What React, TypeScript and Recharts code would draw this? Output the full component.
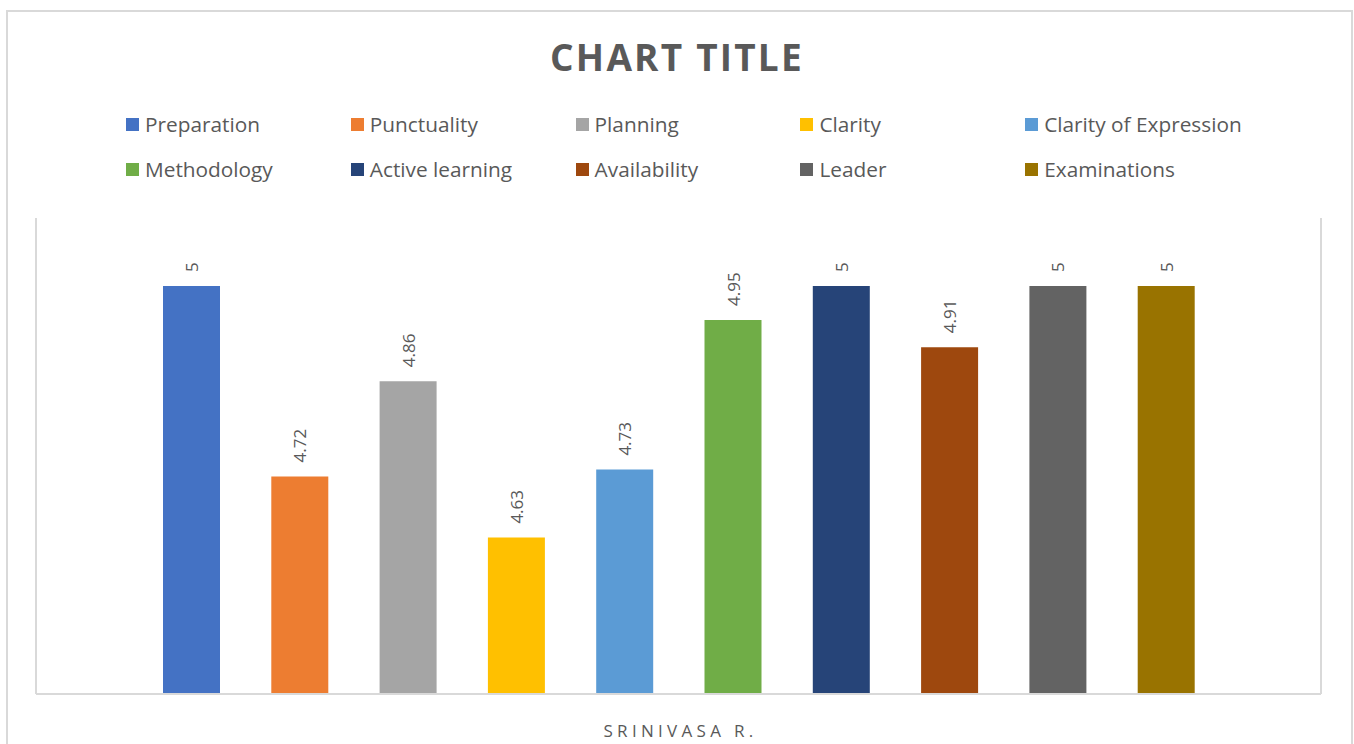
import React from 'react';
import { BarChart, Bar, XAxis, YAxis, CartesianGrid, LabelList } from 'recharts';

const category = 'SRINIVASA R.';
const seriesNames = [
  'Preparation',
  'Punctuality',
  'Planning',
  'Clarity',
  'Clarity of Expression',
  'Methodology',
  'Active learning',
  'Availability',
  'Leader',
  'Examinations',
];
const seriesValues = [5, 4.72, 4.86, 4.63, 4.73, 4.95, 5, 4.91, 5, 5];
const seriesColors = [
  '#4472C4',
  '#ED7D31',
  '#A5A5A5',
  '#FFC000',
  '#5B9BD5',
  '#70AD47',
  '#264478',
  '#9E480E',
  '#636363',
  '#997300',
];
const yDomain = [4.4, 5.1];

const row: Record<string, any> = { name: category };
seriesNames.forEach((n, i) => {
  row['s' + i] = seriesValues[i];
});
const data = [row];

const FONT = '"Open Sans", "Segoe UI", sans-serif';
const TEXT = '#595959';
const LINE = '#d9d9d9';

const renderLabel = (props: any) => {
  const { x, y, width, value } = props;
  const cx = x + width / 2;
  const ty = y - 14;
  return (
    <text
      x={cx}
      y={ty}
      transform={`rotate(-90, ${cx}, ${ty})`}
      textAnchor="start"
      dominantBaseline="central"
      fill={TEXT}
      fontSize={17}
      fontFamily={FONT}
    >
      {value}
    </text>
  );
};

const renderTick = (props: any) => {
  const { x, y, payload } = props;
  return (
    <text
      x={x + 2}
      y={y + 28}
      textAnchor="middle"
      dominantBaseline="central"
      fill={TEXT}
      fontSize={17}
      fontFamily={FONT}
      letterSpacing={4.3}
    >
      {String(payload.value).toUpperCase()}
    </text>
  );
};

export default function App() {
  return (
    <div style={{ position: 'absolute', left: 0, top: 0, width: 1354, height: 744, background: '#fff', overflow: 'hidden' }}>
      <div
        style={{
          position: 'absolute',
          left: 6,
          top: 10,
          width: 1343,
          height: 760,
          border: `2px solid ${LINE}`,
        }}
      />
      <div
        style={{
          position: 'absolute',
          left: 0,
          top: 32,
          width: 1354,
          textAlign: 'center',
          fontFamily: FONT,
          fontWeight: 700,
          fontSize: 37,
          letterSpacing: 2.2,
          color: TEXT,
          lineHeight: '50px',
        }}
      >
        CHART TITLE
      </div>
      <div
        style={{
          position: 'absolute',
          left: 126,
          top: 104,
          width: 1130,
          display: 'grid',
          gridTemplateColumns: 'repeat(5, 224.8px)',
          rowGap: 5,
          fontFamily: FONT,
          fontSize: 20.8,
          color: TEXT,
        }}
      >
        {seriesNames.map((n, i) => (
          <div key={n} style={{ display: 'flex', alignItems: 'center', height: 40, whiteSpace: 'nowrap' }}>
            <span style={{ display: 'inline-block', width: 13, height: 13, background: seriesColors[i], marginRight: 6 }} />
            <span>{n}</span>
          </div>
        ))}
      </div>
      <div style={{ position: 'absolute', left: 0, top: 0 }}>
        <BarChart
          width={1354}
          height={744}
          data={data}
          margin={{ top: 218, right: 33, left: 36, bottom: 0 }}
          barGap={51.3}
        >
          <CartesianGrid
            horizontal={false}
            vertical
            stroke={LINE}
            strokeWidth={2}
            verticalCoordinatesGenerator={({ offset }: any) => [offset.left, offset.left + offset.width]}
          />
          <XAxis
            dataKey="name"
            height={50}
            axisLine={{ stroke: LINE, strokeWidth: 2 }}
            tickLine={false}
            tick={renderTick}
          />
          <YAxis hide domain={yDomain} allowDataOverflow type="number" />
          {seriesNames.map((n, i) => (
            <Bar key={n} dataKey={'s' + i} name={n} fill={seriesColors[i]} barSize={57} isAnimationActive={false}>
              <LabelList dataKey={'s' + i} content={renderLabel} />
            </Bar>
          ))}
        </BarChart>
      </div>
    </div>
  );
}
